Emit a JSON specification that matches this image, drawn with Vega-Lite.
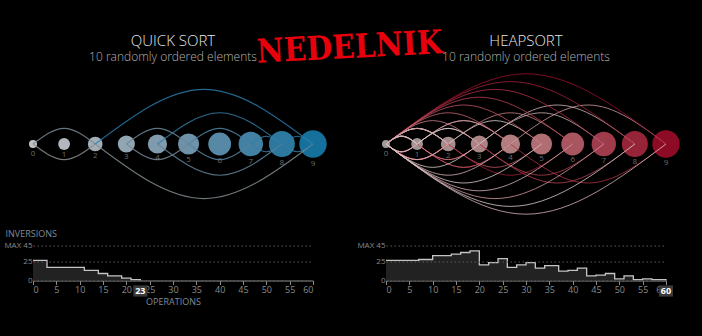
{
  "$schema": "https://vega.github.io/schema/vega-lite/v6.json",
  "background": "#000000",
  "padding": {"left": 3, "top": 27, "right": 24, "bottom": 33},
  "title": {"text": "NEDELNIK", "color": "#e8000d", "font": "DejaVu Serif Condensed", "fontSize": 33, "fontWeight": "bold", "anchor": "middle", "frame": "bounds", "offset": -41, "angle": -3, "dx": 7},
  "config": {"view": {"stroke": null}, "font": "Open Sans"},
  "datasets": {
    "qnodes": [{"i":0},{"i":1},{"i":2},{"i":3},{"i":4},{"i":5},{"i":6},{"i":7},{"i":8},{"i":9}],
    "qarcs": [
      {"id":"q1u","xs":[0,1,2],"ys":[0,0.5,0],"v":2},
      {"id":"q1d","xs":[0,1,2],"ys":[0,-0.5,0],"v":0},
      {"id":"q2u","xs":[2,5.5,9],"ys":[0,1.75,0],"v":9},
      {"id":"q2d","xs":[2,5.5,9],"ys":[0,-1.75,0],"v":1},
      {"id":"q3u","xs":[3,4,5],"ys":[0,0.5,0],"v":3},
      {"id":"q3d","xs":[3,4,5],"ys":[0,-0.5,0],"v":2},
      {"id":"q4u","xs":[4,6,8],"ys":[0,1,0],"v":8},
      {"id":"q4d","xs":[4,6,8],"ys":[0,-1,0],"v":4},
      {"id":"q5u","xs":[5,6,7],"ys":[0,0.5,0],"v":6},
      {"id":"q5d","xs":[5,6,7],"ys":[0,-0.5,0],"v":5},
      {"id":"q6u","xs":[7,7.5,8],"ys":[0,0.25,0],"v":8},
      {"id":"q6d","xs":[7,7.5,8],"ys":[0,-0.25,0],"v":7},
      {"id":"q7u","xs":[8,8.5,9],"ys":[0,0.25,0],"v":9},
      {"id":"q7d","xs":[8,8.5,9],"ys":[0,-0.25,0],"v":8}
    ],
    "qsteps": [{"op":0,"inv":26},{"op":3,"inv":17},{"op":11,"inv":13},{"op":14,"inv":9},{"op":16,"inv":6},{"op":19,"inv":3},{"op":21,"inv":1},{"op":23,"inv":0}],
    "harcs": [
      {"id":"h1u","xs":[4,6.5,9],"ys":[0,1.25,0],"v":2},
      {"id":"h1d","xs":[4,6.5,9],"ys":[0,-1.25,0],"v":7},
      {"id":"h2u","xs":[3,5.5,8],"ys":[0,1.25,0],"v":1},
      {"id":"h2d","xs":[3,5.5,8],"ys":[0,-1.25,0],"v":6},
      {"id":"h3u","xs":[2,4,6],"ys":[0,1,0],"v":3},
      {"id":"h3d","xs":[2,4,6],"ys":[0,-1,0],"v":8},
      {"id":"h4u","xs":[1,2.5,4],"ys":[0,0.75,0],"v":2},
      {"id":"h4d","xs":[1,2.5,4],"ys":[0,-0.75,0],"v":9},
      {"id":"h5u","xs":[0,1,2],"ys":[0,0.5,0],"v":0},
      {"id":"h5d","xs":[0,1,2],"ys":[0,-0.5,0],"v":9},
      {"id":"h6u","xs":[2,3.5,5],"ys":[0,0.75,0],"v":0},
      {"id":"h6d","xs":[2,3.5,5],"ys":[0,-0.75,0],"v":5},
      {"id":"h7u","xs":[0,4.5,9],"ys":[0,2.25,0],"v":9},
      {"id":"h7d","xs":[0,4.5,9],"ys":[0,-2.25,0],"v":1},
      {"id":"h8u","xs":[0,0.5,1],"ys":[0,0.25,0],"v":1},
      {"id":"h8d","xs":[0,0.5,1],"ys":[0,-0.25,0],"v":8},
      {"id":"h9u","xs":[1,2,3],"ys":[0,0.5,0],"v":1},
      {"id":"h9d","xs":[1,2,3],"ys":[0,-0.5,0],"v":7},
      {"id":"h10u","xs":[3,5,7],"ys":[0,1,0],"v":1},
      {"id":"h10d","xs":[3,5,7],"ys":[0,-1,0],"v":6},
      {"id":"h11u","xs":[0,4,8],"ys":[0,2,0],"v":8},
      {"id":"h11d","xs":[0,4,8],"ys":[0,-2,0],"v":0},
      {"id":"h12u","xs":[0,1,2],"ys":[0,0.5,0],"v":0},
      {"id":"h12d","xs":[0,1,2],"ys":[0,-0.5,0],"v":7},
      {"id":"h14u","xs":[0,3.5,7],"ys":[0,1.75,0],"v":7},
      {"id":"h14d","xs":[0,3.5,7],"ys":[0,-1.75,0],"v":2},
      {"id":"h15u","xs":[0,0.5,1],"ys":[0,0.25,0],"v":2},
      {"id":"h15d","xs":[0,0.5,1],"ys":[0,-0.25,0],"v":6},
      {"id":"h16u","xs":[1,2.5,4],"ys":[0,0.75,0],"v":2},
      {"id":"h16d","xs":[1,2.5,4],"ys":[0,-0.75,0],"v":4},
      {"id":"h17u","xs":[0,3,6],"ys":[0,1.5,0],"v":6},
      {"id":"h17d","xs":[0,3,6],"ys":[0,-1.5,0],"v":1},
      {"id":"h18u","xs":[0,1,2],"ys":[0,0.5,0],"v":1},
      {"id":"h18d","xs":[0,1,2],"ys":[0,-0.5,0],"v":5},
      {"id":"h19u","xs":[0,2.5,5],"ys":[0,1.25,0],"v":5},
      {"id":"h19d","xs":[0,2.5,5],"ys":[0,-1.25,0],"v":0},
      {"id":"h20u","xs":[0,0.5,1],"ys":[0,0.25,0],"v":0},
      {"id":"h20d","xs":[0,0.5,1],"ys":[0,-0.25,0],"v":4},
      {"id":"h21u","xs":[1,2,3],"ys":[0,0.5,0],"v":0},
      {"id":"h21d","xs":[1,2,3],"ys":[0,-0.5,0],"v":3},
      {"id":"h22u","xs":[0,2,4],"ys":[0,1,0],"v":4},
      {"id":"h22d","xs":[0,2,4],"ys":[0,-1,0],"v":1},
      {"id":"h23u","xs":[0,1,2],"ys":[0,0.5,0],"v":1},
      {"id":"h23d","xs":[0,1,2],"ys":[0,-0.5,0],"v":3},
      {"id":"h24u","xs":[0,1.5,3],"ys":[0,0.75,0],"v":3},
      {"id":"h24d","xs":[0,1.5,3],"ys":[0,-0.75,0],"v":0},
      {"id":"h25u","xs":[0,0.5,1],"ys":[0,0.25,0],"v":0},
      {"id":"h25d","xs":[0,0.5,1],"ys":[0,-0.25,0],"v":2},
      {"id":"h26u","xs":[0,1,2],"ys":[0,0.5,0],"v":2},
      {"id":"h26d","xs":[0,1,2],"ys":[0,-0.5,0],"v":1},
      {"id":"h27u","xs":[0,0.5,1],"ys":[0,0.25,0],"v":1},
      {"id":"h27d","xs":[0,0.5,1],"ys":[0,-0.25,0],"v":0}
    ],
    "hsteps": [{"op":0,"inv":26},{"op":7,"inv":27},{"op":10,"inv":32},{"op":14,"inv":34},{"op":16,"inv":36},{"op":18,"inv":38},{"op":20,"inv":20},{"op":22,"inv":23},{"op":24,"inv":28},{"op":26,"inv":17},{"op":28,"inv":20},{"op":30,"inv":23},{"op":32,"inv":16},{"op":34,"inv":19},{"op":37,"inv":12},{"op":39,"inv":13},{"op":41,"inv":16},{"op":43,"inv":6},{"op":45,"inv":7},{"op":47,"inv":9},{"op":49,"inv":2},{"op":51,"inv":6},{"op":53,"inv":1},{"op":55,"inv":2},{"op":57,"inv":1},{"op":60,"inv":0}]
  },
  "columns": 2,
  "spacing": {"column": 73, "row": 23.5},
  "bounds": "flush",
  "resolve": {"scale": {"x": "independent", "y": "independent", "fill": "independent", "stroke": "independent", "size": "independent", "yOffset": "independent"}},
  "concat": [
    {
      "width": 280, "height": 156,
      "title": {"text": "QUICK SORT", "subtitle": "10 randomly ordered elements", "anchor": "middle", "frame": "group", "font": "Open Sans", "fontSize": 15, "fontWeight": 300, "color": "#e6e6e6", "subtitleFont": "Open Sans", "subtitleFontSize": 12, "subtitleFontWeight": 300, "subtitleColor": "#b4b4b4", "offset": 3, "subtitlePadding": 3},
      "layer": [
        {
          "data": {"name": "qnodes"},
          "mark": {"type": "point", "filled": true, "opacity": 1, "strokeWidth": 0},
          "encoding": {
            "x": {"field": "i", "type": "quantitative", "scale": {"domain": [0, 9], "nice": false}, "axis": null},
            "y": {"datum": 0, "type": "quantitative", "scale": {"domain": [-2.5, 2.5], "nice": false}, "axis": null},
            "size": {"field": "i", "type": "quantitative", "scale": {"domain": [0, 9], "range": [64, 750], "zero": false}, "legend": null},
            "fill": {"field": "i", "type": "quantitative", "scale": {"domain": [0, 4.5, 9], "range": ["#c2c2c2", "#7896ab", "#16709c"], "interpolate": "rgb"}, "legend": null}
          }
        },
        {
          "data": {"name": "qnodes"},
          "mark": {"type": "text", "fontSize": 8, "color": "#6d6d6d", "baseline": "middle"},
          "encoding": {
            "x": {"field": "i", "type": "quantitative"},
            "y": {"datum": 0, "type": "quantitative"},
            "text": {"field": "i"},
            "yOffset": {"field": "i", "type": "quantitative", "scale": {"domain": [0, 9], "range": [10, 20]}}
          }
        },
        {
          "data": {"name": "qarcs"},
          "transform": [{"flatten": ["xs", "ys"], "as": ["x", "y"]}],
          "mark": {"type": "line", "interpolate": "natural", "strokeWidth": 1.1, "opacity": 0.85},
          "encoding": {
            "x": {"field": "x", "type": "quantitative"},
            "y": {"field": "y", "type": "quantitative"},
            "detail": {"field": "id"},
            "stroke": {"field": "v", "type": "quantitative", "scale": {"domain": [0, 9], "range": ["#8e8e8e", "#2a7aaa"], "interpolate": "rgb"}, "legend": null}
          }
        }
      ]
    },
    {
      "width": 280, "height": 156,
      "title": {"text": "HEAPSORT", "subtitle": "10 randomly ordered elements", "anchor": "middle", "frame": "group", "font": "Open Sans", "fontSize": 15, "fontWeight": 300, "color": "#e6e6e6", "subtitleFont": "Open Sans", "subtitleFontSize": 12, "subtitleFontWeight": 300, "subtitleColor": "#b4b4b4", "offset": 3, "subtitlePadding": 3},
      "layer": [
        {
          "data": {"name": "qnodes"},
          "mark": {"type": "point", "filled": true, "opacity": 1, "strokeWidth": 0},
          "encoding": {
            "x": {"field": "i", "type": "quantitative", "scale": {"domain": [0, 9], "nice": false}, "axis": null},
            "y": {"datum": 0, "type": "quantitative", "scale": {"domain": [-2.5, 2.5], "nice": false}, "axis": null},
            "size": {"field": "i", "type": "quantitative", "scale": {"domain": [0, 9], "range": [64, 750], "zero": false}, "legend": null},
            "fill": {"field": "i", "type": "quantitative", "scale": {"domain": [0, 4.5, 9], "range": ["#9c9c9c", "#b37a7a", "#8e0b25"], "interpolate": "rgb"}, "legend": null}
          }
        },
        {
          "data": {"name": "qnodes"},
          "mark": {"type": "text", "fontSize": 8, "color": "#6d6d6d", "baseline": "middle"},
          "encoding": {
            "x": {"field": "i", "type": "quantitative"},
            "y": {"datum": 0, "type": "quantitative"},
            "text": {"field": "i"},
            "yOffset": {"field": "i", "type": "quantitative", "scale": {"domain": [0, 9], "range": [9.5, 19]}}
          }
        },
        {
          "data": {"name": "harcs"},
          "transform": [{"flatten": ["xs", "ys"], "as": ["x", "y"]}],
          "mark": {"type": "line", "interpolate": "natural", "strokeWidth": 1, "opacity": 0.8},
          "encoding": {
            "x": {"field": "x", "type": "quantitative"},
            "y": {"field": "y", "type": "quantitative"},
            "detail": {"field": "id"},
            "stroke": {"field": "v", "type": "quantitative", "scale": {"domain": [0, 4.5, 9], "range": ["#d9cccc", "#c45a66", "#9c0f2c"], "interpolate": "rgb"}, "legend": null}
          }
        }
      ]
    },
    {
      "width": 280, "height": 35,
      "data": {"name": "qsteps"},
      "layer": [
        {
          "mark": {"type": "area", "interpolate": "step-after", "color": "#222222"},
          "encoding": {
            "x": {"field": "op", "type": "quantitative", "scale": {"domain": [0, 60], "nice": false}, "axis": {"values": [0,5,10,15,20,25,30,35,40,45,50,55,60], "tickCount": 100, "format": "d", "labelOverlap": false, "title": "OPERATIONS", "grid": false, "zindex": 0, "domainColor": "#8a8a8a", "tickColor": "#8a8a8a", "tickSize": 4, "labelColor": "#8a8a8a", "labelFontSize": 9, "labelPadding": 1, "titleColor": "#7d8b99", "titleFontSize": 9, "titleFontWeight": "normal", "titlePadding": 3}},
            "y": {"field": "inv", "type": "quantitative", "scale": {"domain": [0, 45], "nice": false}, "axis": {"values": [0, 25, 45], "tickCount": 100, "format": "d", "labelOverlap": false, "labelExpr": "datum.value == 45 ? 'MAX 45' : datum.label", "grid": true, "gridDash": [1.5, 2.5], "gridColor": "#5a5a5a", "zindex": 1, "domain": false, "ticks": false, "labelColor": "#8a8a8a", "labelFontSize": 8, "labelPadding": 1, "title": "INVERSIONS", "titleAngle": 0, "titleAlign": "left", "titleBaseline": "top", "titleX": -28, "titleY": -16, "titleColor": "#7d8b99", "titleFontSize": 9, "titleFontWeight": "normal"}}
          }
        },
        {
          "mark": {"type": "line", "interpolate": "step-after", "color": "#c4c4c4", "strokeWidth": 1.3},
          "encoding": {
            "x": {"field": "op", "type": "quantitative"},
            "y": {"field": "inv", "type": "quantitative"}
          }
        },
        {
          "transform": [{"filter": "datum.inv == 0"}],
          "mark": {"type": "point", "shape": "M-1,-0.8L1,-0.8L1,0.8L-1,0.8Z", "filled": true, "color": "#3a3a3a", "opacity": 1, "size": 196, "yOffset": 10.5},
          "encoding": {
            "x": {"field": "op", "type": "quantitative"},
            "y": {"datum": 0, "type": "quantitative"}
          }
        },
        {
          "transform": [{"filter": "datum.inv == 0"}],
          "mark": {"type": "text", "color": "#ffffff", "fontWeight": "bold", "fontSize": 9, "dy": 10.5, "baseline": "middle"},
          "encoding": {
            "x": {"field": "op", "type": "quantitative"},
            "y": {"datum": 0, "type": "quantitative"},
            "text": {"field": "op"}
          }
        }
      ]
    },
    {
      "width": 280, "height": 35,
      "data": {"name": "hsteps"},
      "layer": [
        {
          "mark": {"type": "area", "interpolate": "step-after", "color": "#222222"},
          "encoding": {
            "x": {"field": "op", "type": "quantitative", "scale": {"domain": [0, 60], "nice": false}, "axis": {"values": [0,5,10,15,20,25,30,35,40,45,50,55,60], "tickCount": 100, "format": "d", "labelOverlap": false, "title": null, "grid": false, "zindex": 0, "domainColor": "#8a8a8a", "tickColor": "#8a8a8a", "tickSize": 4, "labelColor": "#8a8a8a", "labelFontSize": 9, "labelPadding": 1}},
            "y": {"field": "inv", "type": "quantitative", "scale": {"domain": [0, 45], "nice": false}, "axis": {"values": [0, 25, 45], "tickCount": 100, "format": "d", "labelOverlap": false, "labelExpr": "datum.value == 45 ? 'MAX 45' : datum.label", "grid": true, "gridDash": [1.5, 2.5], "gridColor": "#5a5a5a", "zindex": 1, "domain": false, "ticks": false, "labelColor": "#8a8a8a", "labelFontSize": 8, "labelPadding": 1, "title": null}}
          }
        },
        {
          "mark": {"type": "line", "interpolate": "step-after", "color": "#c4c4c4", "strokeWidth": 1.3},
          "encoding": {
            "x": {"field": "op", "type": "quantitative"},
            "y": {"field": "inv", "type": "quantitative"}
          }
        },
        {
          "transform": [{"filter": "datum.inv == 0"}],
          "mark": {"type": "point", "shape": "M-1,-0.8L1,-0.8L1,0.8L-1,0.8Z", "filled": true, "color": "#3a3a3a", "opacity": 1, "size": 196, "yOffset": 10.5},
          "encoding": {
            "x": {"field": "op", "type": "quantitative"},
            "y": {"datum": 0, "type": "quantitative"}
          }
        },
        {
          "transform": [{"filter": "datum.inv == 0"}],
          "mark": {"type": "text", "color": "#ffffff", "fontWeight": "bold", "fontSize": 9, "dy": 10.5, "baseline": "middle"},
          "encoding": {
            "x": {"field": "op", "type": "quantitative"},
            "y": {"datum": 0, "type": "quantitative"},
            "text": {"field": "op"}
          }
        }
      ]
    }
  ]
}
